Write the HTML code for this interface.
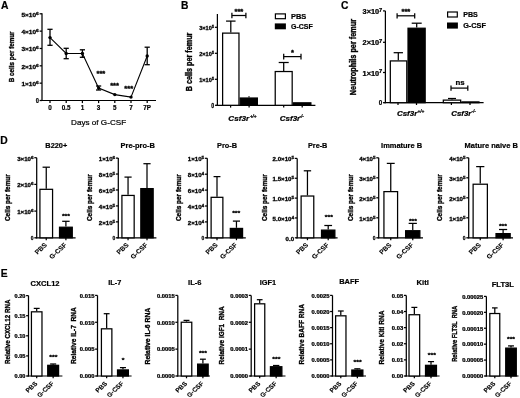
<!DOCTYPE html><html><head><meta charset="utf-8"><style>html,body{margin:0;padding:0;background:#fff;width:520px;height:398px;overflow:hidden}svg{display:block;filter:grayscale(1) blur(0.35px)}svg{font-weight:bold}text{white-space:pre;font-family:"Liberation Sans",sans-serif;fill:#000;stroke:#000;stroke-width:0.2px}line{stroke:#000}</style></head><body>
<svg width="520" height="398" viewBox="0 0 520 398">
<rect width="520" height="398" fill="#fff"/>
<text transform="translate(0.9,8.8)" font-size="10.3">A</text>
<text transform="translate(181,8.7)" font-size="10.3">B</text>
<text transform="translate(340.9,9)" font-size="10.3">C</text>
<text transform="translate(0.2,144.3)" font-size="10.3">D</text>
<text transform="translate(0.8,277.3)" font-size="10.3">E</text>
<line x1="42" y1="13.3" x2="42" y2="101" stroke-width="1.25"/>
<line x1="39.6" y1="100.5" x2="42" y2="100.5" stroke-width="1.25"/>
<text transform="translate(38.9,102.67) scale(0.9,1)" font-size="6.3" text-anchor="end" style="stroke-width:0.25px">0</text>
<line x1="39.6" y1="83.16" x2="42" y2="83.16" stroke-width="1.25"/>
<text transform="translate(38.9,86.08) scale(1.3,1)" font-size="5" text-anchor="end" style="stroke-width:0.25px">1&#215;10<tspan dy="-2" font-size="78%">6</tspan></text>
<line x1="39.6" y1="65.82" x2="42" y2="65.82" stroke-width="1.25"/>
<text transform="translate(38.9,68.74) scale(1.3,1)" font-size="5" text-anchor="end" style="stroke-width:0.25px">2&#215;10<tspan dy="-2" font-size="78%">6</tspan></text>
<line x1="39.6" y1="48.48" x2="42" y2="48.48" stroke-width="1.25"/>
<text transform="translate(38.9,51.41) scale(1.3,1)" font-size="5" text-anchor="end" style="stroke-width:0.25px">3&#215;10<tspan dy="-2" font-size="78%">6</tspan></text>
<line x1="39.6" y1="31.14" x2="42" y2="31.14" stroke-width="1.25"/>
<text transform="translate(38.9,34.07) scale(1.3,1)" font-size="5" text-anchor="end" style="stroke-width:0.25px">4&#215;10<tspan dy="-2" font-size="78%">6</tspan></text>
<line x1="39.6" y1="13.8" x2="42" y2="13.8" stroke-width="1.25"/>
<text transform="translate(38.9,16.72) scale(1.3,1)" font-size="5" text-anchor="end" style="stroke-width:0.25px">5&#215;10<tspan dy="-2" font-size="78%">6</tspan></text>
<line x1="41" y1="100.5" x2="156" y2="100.5" stroke-width="1.2"/>
<line x1="50" y1="100.5" x2="50" y2="103.1" stroke-width="1.25"/>
<text transform="translate(50,110.2) scale(0.97,1)" font-size="6.5" text-anchor="middle">0</text>
<line x1="66.2" y1="100.5" x2="66.2" y2="103.1" stroke-width="1.25"/>
<text transform="translate(66.2,110.2) scale(0.97,1)" font-size="6.5" text-anchor="middle">0.5</text>
<line x1="82.4" y1="100.5" x2="82.4" y2="103.1" stroke-width="1.25"/>
<text transform="translate(82.4,110.2) scale(0.97,1)" font-size="6.5" text-anchor="middle">1</text>
<line x1="98.6" y1="100.5" x2="98.6" y2="103.1" stroke-width="1.25"/>
<text transform="translate(98.6,110.2) scale(0.97,1)" font-size="6.5" text-anchor="middle">3</text>
<line x1="114.8" y1="100.5" x2="114.8" y2="103.1" stroke-width="1.25"/>
<text transform="translate(114.8,110.2) scale(0.97,1)" font-size="6.5" text-anchor="middle">5</text>
<line x1="131" y1="100.5" x2="131" y2="103.1" stroke-width="1.25"/>
<text transform="translate(131,110.2) scale(0.97,1)" font-size="6.5" text-anchor="middle">7</text>
<line x1="147.2" y1="100.5" x2="147.2" y2="103.1" stroke-width="1.25"/>
<text transform="translate(147.2,110.2) scale(0.97,1)" font-size="6.5" text-anchor="middle">7P</text>
<text transform="translate(71.05,125.3)" font-size="7.3" font-weight="normal" textLength="55.1" lengthAdjust="spacingAndGlyphs">Days of G-CSF</text>
<text transform="translate(13.6,82.2) scale(1.22,1) rotate(-90)" font-size="6" textLength="50.7" lengthAdjust="spacingAndGlyphs" style="stroke-width:0.28px">B cells per femur</text>
<polyline fill="none" stroke="#000" stroke-width="1.1" points="50,37.6 66.2,53.5 82.4,53.5 98.6,88.1 114.8,94.6 131,97.1 147.2,56"/>
<line x1="50" y1="29.3" x2="50" y2="45.3" stroke-width="1.3"/>
<line x1="47.4" y1="29.3" x2="52.6" y2="29.3" stroke-width="1.3"/>
<line x1="47.4" y1="45.3" x2="52.6" y2="45.3" stroke-width="1.3"/>
<circle cx="50" cy="37.6" r="1.7" fill="#000"/>
<line x1="66.2" y1="48.3" x2="66.2" y2="58.7" stroke-width="1.3"/>
<line x1="63.6" y1="48.3" x2="68.8" y2="48.3" stroke-width="1.3"/>
<line x1="63.6" y1="58.7" x2="68.8" y2="58.7" stroke-width="1.3"/>
<circle cx="66.2" cy="53.5" r="1.7" fill="#000"/>
<line x1="82.4" y1="49.8" x2="82.4" y2="57.3" stroke-width="1.3"/>
<line x1="79.8" y1="49.8" x2="85" y2="49.8" stroke-width="1.3"/>
<line x1="79.8" y1="57.3" x2="85" y2="57.3" stroke-width="1.3"/>
<circle cx="82.4" cy="53.5" r="1.7" fill="#000"/>
<line x1="98.6" y1="86" x2="98.6" y2="90" stroke-width="1.3"/>
<line x1="96" y1="86" x2="101.2" y2="86" stroke-width="1.3"/>
<line x1="96" y1="90" x2="101.2" y2="90" stroke-width="1.3"/>
<circle cx="98.6" cy="88.1" r="1.7" fill="#000"/>
<circle cx="114.8" cy="94.6" r="1.7" fill="#000"/>
<circle cx="131" cy="97.1" r="1.7" fill="#000"/>
<line x1="147.2" y1="47.2" x2="147.2" y2="64.7" stroke-width="1.3"/>
<line x1="144.6" y1="47.2" x2="149.8" y2="47.2" stroke-width="1.3"/>
<line x1="144.6" y1="64.7" x2="149.8" y2="64.7" stroke-width="1.3"/>
<circle cx="147.2" cy="56" r="1.7" fill="#000"/>
<text transform="translate(100.9,76.07) scale(1.15,1)" font-size="6.6" text-anchor="middle" style="stroke-width:0.3px">***</text>
<text transform="translate(114.6,87.97) scale(1.15,1)" font-size="6.6" text-anchor="middle" style="stroke-width:0.3px">***</text>
<text transform="translate(128.7,90.97) scale(1.15,1)" font-size="6.6" text-anchor="middle" style="stroke-width:0.3px">***</text>
<line x1="217.4" y1="14" x2="217.4" y2="105.8" stroke-width="1.25"/>
<line x1="215" y1="105.3" x2="217.4" y2="105.3" stroke-width="1.25"/>
<text transform="translate(214.3,107.51) scale(0.82,1)" font-size="6.4" text-anchor="end" style="stroke-width:0.25px">0</text>
<line x1="215" y1="79.3" x2="217.4" y2="79.3" stroke-width="1.25"/>
<text transform="translate(214.3,82.16) scale(1.17,1)" font-size="4.8" text-anchor="end" style="stroke-width:0.25px">1&#215;10<tspan dy="-2" font-size="78%">5</tspan></text>
<line x1="215" y1="53.3" x2="217.4" y2="53.3" stroke-width="1.25"/>
<text transform="translate(214.3,56.16) scale(1.17,1)" font-size="4.8" text-anchor="end" style="stroke-width:0.25px">2&#215;10<tspan dy="-2" font-size="78%">5</tspan></text>
<line x1="215" y1="27.3" x2="217.4" y2="27.3" stroke-width="1.25"/>
<text transform="translate(214.3,30.16) scale(1.17,1)" font-size="4.8" text-anchor="end" style="stroke-width:0.25px">3&#215;10<tspan dy="-2" font-size="78%">5</tspan></text>
<line x1="216.4" y1="105.3" x2="315.4" y2="105.3" stroke-width="1.2"/>
<rect x="222.62" y="33.12" width="16.35" height="72.17" fill="#fff" stroke="#000" stroke-width="1.25"/>
<rect x="240.22" y="98.03" width="17.15" height="7.27" fill="#000" stroke="#000" stroke-width="1.25"/>
<rect x="275.23" y="71.53" width="16.95" height="33.77" fill="#fff" stroke="#000" stroke-width="1.25"/>
<rect x="293.43" y="102.83" width="17.45" height="2.47" fill="#000" stroke="#000" stroke-width="1.25"/>
<line x1="230.8" y1="21.1" x2="230.8" y2="32.5" stroke-width="1.25"/>
<line x1="226.05" y1="21.1" x2="235.55" y2="21.1" stroke-width="1.25"/>
<line x1="283.7" y1="62.5" x2="283.7" y2="70.9" stroke-width="1.25"/>
<line x1="278.7" y1="62.5" x2="288.7" y2="62.5" stroke-width="1.25"/>
<line x1="249" y1="96.2" x2="249" y2="97.5" stroke-width="1.25"/>
<line x1="230.6" y1="105.3" x2="230.6" y2="107.6" stroke-width="1.25"/>
<line x1="249.1" y1="105.3" x2="249.1" y2="107.6" stroke-width="1.25"/>
<line x1="283.7" y1="105.3" x2="283.7" y2="107.6" stroke-width="1.25"/>
<line x1="302.2" y1="105.3" x2="302.2" y2="107.6" stroke-width="1.25"/>
<text transform="translate(228.3,121)" font-size="7.1" font-style="italic" textLength="20.8" lengthAdjust="spacingAndGlyphs">Csf3r</text>
<text transform="translate(249.9,117.8)" font-size="4.6" font-style="italic">+/+</text>
<text transform="translate(279.8,120.6)" font-size="7.1" font-style="italic" textLength="20.4" lengthAdjust="spacingAndGlyphs">Csf3r</text>
<text transform="translate(299.5,117.8)" font-size="4.6" font-style="italic">-/-</text>
<line x1="231.9" y1="15.5" x2="245.9" y2="15.5" stroke-width="1.25"/>
<line x1="231.9" y1="12.8" x2="231.9" y2="18.2" stroke-width="1.25"/>
<line x1="245.9" y1="12.8" x2="245.9" y2="18.2" stroke-width="1.25"/>
<text transform="translate(238.9,13.67) scale(1.15,1)" font-size="6.6" text-anchor="middle" style="stroke-width:0.3px">***</text>
<line x1="283.7" y1="56.6" x2="301" y2="56.6" stroke-width="1.25"/>
<line x1="283.7" y1="53.8" x2="283.7" y2="59.4" stroke-width="1.25"/>
<line x1="301" y1="53.8" x2="301" y2="59.4" stroke-width="1.25"/>
<text transform="translate(292.5,54.77) scale(1.15,1)" font-size="6.6" text-anchor="middle" style="stroke-width:0.3px">*</text>
<text transform="translate(191.6,91.2) scale(1.22,1) rotate(-90)" font-size="7" textLength="58.6" lengthAdjust="spacingAndGlyphs" style="stroke-width:0.28px">B cells per femur</text>
<rect x="275.4" y="13.9" width="10.0" height="4.8" fill="#fff" stroke="#000" stroke-width="1.2"/>
<rect x="274.8" y="23.4" width="11.1" height="5.9" fill="#000"/>
<text transform="translate(290.95,18.6)" font-size="6.8" textLength="15.3" lengthAdjust="spacingAndGlyphs">PBS</text>
<text transform="translate(290.95,29.2)" font-size="7" textLength="21.8" lengthAdjust="spacingAndGlyphs">G-CSF</text>
<line x1="385.4" y1="10.9" x2="385.4" y2="103.2" stroke-width="1.25"/>
<line x1="383" y1="102.7" x2="385.4" y2="102.7" stroke-width="1.25"/>
<text transform="translate(382.3,105.12) scale(0.9,1)" font-size="7" text-anchor="end" style="stroke-width:0.25px">0</text>
<line x1="383" y1="72.5" x2="385.4" y2="72.5" stroke-width="1.25"/>
<text transform="translate(382.3,75.51) scale(1.15,1)" font-size="6.4" text-anchor="end" style="stroke-width:0.25px">1&#215;10<tspan dy="-2.4" font-size="78%">7</tspan></text>
<line x1="383" y1="42.3" x2="385.4" y2="42.3" stroke-width="1.25"/>
<text transform="translate(382.3,45.31) scale(1.15,1)" font-size="6.4" text-anchor="end" style="stroke-width:0.25px">2&#215;10<tspan dy="-2.4" font-size="78%">7</tspan></text>
<line x1="383" y1="10.9" x2="385.4" y2="10.9" stroke-width="1.25"/>
<text transform="translate(382.3,13.91) scale(1.15,1)" font-size="6.4" text-anchor="end" style="stroke-width:0.25px">3&#215;10<tspan dy="-2.4" font-size="78%">7</tspan></text>
<line x1="384.4" y1="102.7" x2="483.6" y2="102.7" stroke-width="1.2"/>
<rect x="390.32" y="60.92" width="16.45" height="41.78" fill="#fff" stroke="#000" stroke-width="1.25"/>
<rect x="408.02" y="28.23" width="17.15" height="74.47" fill="#000" stroke="#000" stroke-width="1.25"/>
<rect x="443.32" y="100.12" width="17.35" height="2.58" fill="#fff" stroke="#000" stroke-width="1.25"/>
<rect x="461.93" y="101.92" width="17.05" height="0.78" fill="#000" stroke="#000" stroke-width="1.25"/>
<line x1="398.3" y1="52.7" x2="398.3" y2="60.3" stroke-width="1.25"/>
<line x1="393.65" y1="52.7" x2="402.95" y2="52.7" stroke-width="1.25"/>
<line x1="416.7" y1="23.2" x2="416.7" y2="27.6" stroke-width="1.25"/>
<line x1="411.7" y1="23.2" x2="421.7" y2="23.2" stroke-width="1.25"/>
<line x1="452" y1="98.5" x2="452" y2="99.5" stroke-width="1.25"/>
<line x1="448" y1="98.5" x2="456" y2="98.5" stroke-width="1.25"/>
<line x1="398" y1="102.7" x2="398" y2="105" stroke-width="1.25"/>
<line x1="416.5" y1="102.7" x2="416.5" y2="105" stroke-width="1.25"/>
<line x1="451.4" y1="102.7" x2="451.4" y2="105" stroke-width="1.25"/>
<line x1="470" y1="102.7" x2="470" y2="105" stroke-width="1.25"/>
<text transform="translate(396.9,116)" font-size="7.1" font-style="italic" textLength="20.4" lengthAdjust="spacingAndGlyphs">Csf3r</text>
<text transform="translate(417.6,113.4)" font-size="4.6" font-style="italic">+/+</text>
<text transform="translate(451.2,116)" font-size="7.1" font-style="italic" textLength="20.2" lengthAdjust="spacingAndGlyphs">Csf3r</text>
<text transform="translate(471.4,113.4)" font-size="4.6" font-style="italic">-/-</text>
<line x1="397.1" y1="15.8" x2="414.7" y2="15.8" stroke-width="1.25"/>
<line x1="397.1" y1="13.2" x2="397.1" y2="18.5" stroke-width="1.25"/>
<line x1="414.7" y1="13.2" x2="414.7" y2="18.5" stroke-width="1.25"/>
<text transform="translate(405.9,13.97) scale(1.15,1)" font-size="6.6" text-anchor="middle" style="stroke-width:0.3px">***</text>
<line x1="451" y1="88.1" x2="467.8" y2="88.1" stroke-width="1.25"/>
<line x1="451" y1="85.5" x2="451" y2="90.8" stroke-width="1.25"/>
<line x1="467.8" y1="85.5" x2="467.8" y2="90.8" stroke-width="1.25"/>
<text transform="translate(460,85.1) scale(1.15,1)" font-size="6.8" text-anchor="middle">ns</text>
<text transform="translate(355.8,95.2) scale(1.22,1) rotate(-90)" font-size="7" textLength="76.3" lengthAdjust="spacingAndGlyphs" style="stroke-width:0.28px">Neutrophils per femur</text>
<rect x="447.6" y="12.0" width="9.7" height="5.0" fill="#fff" stroke="#000" stroke-width="1.2"/>
<rect x="447.0" y="22.5" width="10.9" height="6.1" fill="#000"/>
<text transform="translate(463.15,17)" font-size="6.8" textLength="14.6" lengthAdjust="spacingAndGlyphs">PBS</text>
<text transform="translate(463.15,28.1)" font-size="7" textLength="22.7" lengthAdjust="spacingAndGlyphs">G-CSF</text>
<text transform="translate(45.35,148.4)" font-size="7.6" textLength="21.9" lengthAdjust="spacingAndGlyphs">B220+</text>
<line x1="36.7" y1="157.7" x2="36.7" y2="238.3" stroke-width="1.25"/>
<line x1="34.3" y1="237.8" x2="36.7" y2="237.8" stroke-width="1.25"/>
<text transform="translate(33.6,239.8) scale(0.86,1)" font-size="5.8" text-anchor="end" style="stroke-width:0.25px">0</text>
<line x1="34.3" y1="211.1" x2="36.7" y2="211.1" stroke-width="1.25"/>
<text transform="translate(33.6,213.99) scale(1.25,1)" font-size="4.9" text-anchor="end" style="stroke-width:0.25px">1&#215;10<tspan dy="-1.8" font-size="78%">6</tspan></text>
<line x1="34.3" y1="184.4" x2="36.7" y2="184.4" stroke-width="1.25"/>
<text transform="translate(33.6,187.29) scale(1.25,1)" font-size="4.9" text-anchor="end" style="stroke-width:0.25px">2&#215;10<tspan dy="-1.8" font-size="78%">6</tspan></text>
<line x1="34.3" y1="157.7" x2="36.7" y2="157.7" stroke-width="1.25"/>
<text transform="translate(33.6,160.59) scale(1.25,1)" font-size="4.9" text-anchor="end" style="stroke-width:0.25px">3&#215;10<tspan dy="-1.8" font-size="78%">6</tspan></text>
<line x1="35.7" y1="237.8" x2="75.6" y2="237.8" stroke-width="1.2"/>
<rect x="39.92" y="189.32" width="12.65" height="48.48" fill="#fff" stroke="#000" stroke-width="1.25"/>
<rect x="59.52" y="227.22" width="12.75" height="10.58" fill="#000" stroke="#000" stroke-width="1.25"/>
<line x1="46.25" y1="167.2" x2="46.25" y2="188.7" stroke-width="1.25"/>
<line x1="42.57" y1="167.2" x2="49.93" y2="167.2" stroke-width="1.25"/>
<line x1="65.9" y1="221.3" x2="65.9" y2="226.6" stroke-width="1.25"/>
<line x1="62.19" y1="221.3" x2="69.61" y2="221.3" stroke-width="1.25"/>
<line x1="46.25" y1="237.8" x2="46.25" y2="240.2" stroke-width="1.25"/>
<line x1="65.9" y1="237.8" x2="65.9" y2="240.2" stroke-width="1.25"/>
<text transform="translate(47.45,245.4) scale(1.07,1) rotate(-45)" font-size="6.4" text-anchor="end" style="stroke-width:0.12px">PBS</text>
<text transform="translate(67.1,245.4) scale(1.07,1) rotate(-45)" font-size="6.4" text-anchor="end" style="stroke-width:0.12px">G-CSF</text>
<text transform="translate(65.9,218.26) scale(1.15,1)" font-size="6" text-anchor="middle" style="stroke-width:0.3px">***</text>
<text transform="translate(10.4,221.1) scale(1.22,1) rotate(-90)" font-size="6.2" textLength="46.9" lengthAdjust="spacingAndGlyphs" style="stroke-width:0.28px">Cells per femur</text>
<text transform="translate(120.55,148.4)" font-size="7.6" textLength="34.3" lengthAdjust="spacingAndGlyphs">Pre-pro-B</text>
<line x1="118.3" y1="158.1" x2="118.3" y2="238.3" stroke-width="1.25"/>
<line x1="115.9" y1="237.8" x2="118.3" y2="237.8" stroke-width="1.25"/>
<text transform="translate(115.2,239.8) scale(0.86,1)" font-size="5.8" text-anchor="end" style="stroke-width:0.25px">0</text>
<line x1="115.9" y1="221.86" x2="118.3" y2="221.86" stroke-width="1.25"/>
<text transform="translate(115.2,224.75) scale(1.25,1)" font-size="4.9" text-anchor="end" style="stroke-width:0.25px">2&#215;10<tspan dy="-1.8" font-size="78%">5</tspan></text>
<line x1="115.9" y1="205.92" x2="118.3" y2="205.92" stroke-width="1.25"/>
<text transform="translate(115.2,208.81) scale(1.25,1)" font-size="4.9" text-anchor="end" style="stroke-width:0.25px">4&#215;10<tspan dy="-1.8" font-size="78%">5</tspan></text>
<line x1="115.9" y1="189.98" x2="118.3" y2="189.98" stroke-width="1.25"/>
<text transform="translate(115.2,192.87) scale(1.25,1)" font-size="4.9" text-anchor="end" style="stroke-width:0.25px">6&#215;10<tspan dy="-1.8" font-size="78%">5</tspan></text>
<line x1="115.9" y1="174.04" x2="118.3" y2="174.04" stroke-width="1.25"/>
<text transform="translate(115.2,176.93) scale(1.25,1)" font-size="4.9" text-anchor="end" style="stroke-width:0.25px">8&#215;10<tspan dy="-1.8" font-size="78%">5</tspan></text>
<line x1="115.9" y1="158.1" x2="118.3" y2="158.1" stroke-width="1.25"/>
<text transform="translate(115.2,160.99) scale(1.25,1)" font-size="4.9" text-anchor="end" style="stroke-width:0.25px">1&#215;10<tspan dy="-1.8" font-size="78%">6</tspan></text>
<line x1="117.3" y1="237.8" x2="156.4" y2="237.8" stroke-width="1.2"/>
<rect x="121.92" y="195.43" width="12.25" height="42.38" fill="#fff" stroke="#000" stroke-width="1.25"/>
<rect x="140.82" y="188.62" width="12.35" height="49.18" fill="#000" stroke="#000" stroke-width="1.25"/>
<line x1="128.05" y1="177.1" x2="128.05" y2="194.8" stroke-width="1.25"/>
<line x1="124.47" y1="177.1" x2="131.63" y2="177.1" stroke-width="1.25"/>
<line x1="147" y1="163.7" x2="147" y2="188" stroke-width="1.25"/>
<line x1="143.4" y1="163.7" x2="150.6" y2="163.7" stroke-width="1.25"/>
<line x1="128.05" y1="237.8" x2="128.05" y2="240.2" stroke-width="1.25"/>
<line x1="147" y1="237.8" x2="147" y2="240.2" stroke-width="1.25"/>
<text transform="translate(129.25,245.4) scale(1.07,1) rotate(-45)" font-size="6.4" text-anchor="end" style="stroke-width:0.12px">PBS</text>
<text transform="translate(148.2,245.4) scale(1.07,1) rotate(-45)" font-size="6.4" text-anchor="end" style="stroke-width:0.12px">G-CSF</text>
<text transform="translate(92,221.1) scale(1.22,1) rotate(-90)" font-size="6.2" textLength="46.9" lengthAdjust="spacingAndGlyphs" style="stroke-width:0.28px">Cells per femur</text>
<text transform="translate(217.05,148.4)" font-size="7.6" textLength="20" lengthAdjust="spacingAndGlyphs">Pro-B</text>
<line x1="207.3" y1="158.3" x2="207.3" y2="238.3" stroke-width="1.25"/>
<line x1="204.9" y1="237.8" x2="207.3" y2="237.8" stroke-width="1.25"/>
<text transform="translate(204.2,239.8) scale(0.86,1)" font-size="5.8" text-anchor="end" style="stroke-width:0.25px">0</text>
<line x1="204.9" y1="221.9" x2="207.3" y2="221.9" stroke-width="1.25"/>
<text transform="translate(204.2,224.79) scale(1.25,1)" font-size="4.9" text-anchor="end" style="stroke-width:0.25px">2&#215;10<tspan dy="-1.8" font-size="78%">4</tspan></text>
<line x1="204.9" y1="206" x2="207.3" y2="206" stroke-width="1.25"/>
<text transform="translate(204.2,208.89) scale(1.25,1)" font-size="4.9" text-anchor="end" style="stroke-width:0.25px">4&#215;10<tspan dy="-1.8" font-size="78%">4</tspan></text>
<line x1="204.9" y1="190.1" x2="207.3" y2="190.1" stroke-width="1.25"/>
<text transform="translate(204.2,192.99) scale(1.25,1)" font-size="4.9" text-anchor="end" style="stroke-width:0.25px">6&#215;10<tspan dy="-1.8" font-size="78%">4</tspan></text>
<line x1="204.9" y1="174.2" x2="207.3" y2="174.2" stroke-width="1.25"/>
<text transform="translate(204.2,177.09) scale(1.25,1)" font-size="4.9" text-anchor="end" style="stroke-width:0.25px">8&#215;10<tspan dy="-1.8" font-size="78%">4</tspan></text>
<line x1="204.9" y1="158.3" x2="207.3" y2="158.3" stroke-width="1.25"/>
<text transform="translate(204.2,161.19) scale(1.25,1)" font-size="4.9" text-anchor="end" style="stroke-width:0.25px">1&#215;10<tspan dy="-1.8" font-size="78%">5</tspan></text>
<line x1="206.3" y1="237.8" x2="245.8" y2="237.8" stroke-width="1.2"/>
<rect x="211.12" y="197.32" width="11.75" height="40.48" fill="#fff" stroke="#000" stroke-width="1.25"/>
<rect x="230.32" y="228.43" width="12.25" height="9.38" fill="#000" stroke="#000" stroke-width="1.25"/>
<line x1="217" y1="176.6" x2="217" y2="196.7" stroke-width="1.25"/>
<line x1="213.56" y1="176.6" x2="220.44" y2="176.6" stroke-width="1.25"/>
<line x1="236.45" y1="221.1" x2="236.45" y2="227.8" stroke-width="1.25"/>
<line x1="232.87" y1="221.1" x2="240.03" y2="221.1" stroke-width="1.25"/>
<line x1="217" y1="237.8" x2="217" y2="240.2" stroke-width="1.25"/>
<line x1="236.45" y1="237.8" x2="236.45" y2="240.2" stroke-width="1.25"/>
<text transform="translate(218.2,245.4) scale(1.07,1) rotate(-45)" font-size="6.4" text-anchor="end" style="stroke-width:0.12px">PBS</text>
<text transform="translate(237.65,245.4) scale(1.07,1) rotate(-45)" font-size="6.4" text-anchor="end" style="stroke-width:0.12px">G-CSF</text>
<text transform="translate(236.2,214.56) scale(1.15,1)" font-size="6" text-anchor="middle" style="stroke-width:0.3px">***</text>
<text transform="translate(180.6,221.1) scale(1.22,1) rotate(-90)" font-size="6.2" textLength="46.9" lengthAdjust="spacingAndGlyphs" style="stroke-width:0.28px">Cells per femur</text>
<text transform="translate(307.95,148.4)" font-size="7.6" textLength="19.4" lengthAdjust="spacingAndGlyphs">Pre-B</text>
<line x1="297.2" y1="158.4" x2="297.2" y2="238.3" stroke-width="1.25"/>
<line x1="294.8" y1="237.8" x2="297.2" y2="237.8" stroke-width="1.25"/>
<text transform="translate(294.1,240.69) scale(1.25,1)" font-size="4.9" text-anchor="end" style="stroke-width:0.25px">0.0</text>
<line x1="294.8" y1="217.95" x2="297.2" y2="217.95" stroke-width="1.25"/>
<text transform="translate(294.1,220.84) scale(1.25,1)" font-size="4.9" text-anchor="end" style="stroke-width:0.25px">5.0&#215;10<tspan dy="-1.8" font-size="78%">4</tspan></text>
<line x1="294.8" y1="198.1" x2="297.2" y2="198.1" stroke-width="1.25"/>
<text transform="translate(294.1,200.99) scale(1.25,1)" font-size="4.9" text-anchor="end" style="stroke-width:0.25px">1.0&#215;10<tspan dy="-1.8" font-size="78%">5</tspan></text>
<line x1="294.8" y1="178.25" x2="297.2" y2="178.25" stroke-width="1.25"/>
<text transform="translate(294.1,181.14) scale(1.25,1)" font-size="4.9" text-anchor="end" style="stroke-width:0.25px">1.5&#215;10<tspan dy="-1.8" font-size="78%">5</tspan></text>
<line x1="294.8" y1="158.4" x2="297.2" y2="158.4" stroke-width="1.25"/>
<text transform="translate(294.1,161.29) scale(1.25,1)" font-size="4.9" text-anchor="end" style="stroke-width:0.25px">2.0&#215;10<tspan dy="-1.8" font-size="78%">5</tspan></text>
<line x1="296.2" y1="237.8" x2="337.6" y2="237.8" stroke-width="1.2"/>
<rect x="301.12" y="196.03" width="12.65" height="41.78" fill="#fff" stroke="#000" stroke-width="1.25"/>
<rect x="321.52" y="230.12" width="13.35" height="7.68" fill="#000" stroke="#000" stroke-width="1.25"/>
<line x1="307.45" y1="170.8" x2="307.45" y2="195.4" stroke-width="1.25"/>
<line x1="303.77" y1="170.8" x2="311.13" y2="170.8" stroke-width="1.25"/>
<line x1="328.2" y1="225.5" x2="328.2" y2="229.5" stroke-width="1.25"/>
<line x1="324.33" y1="225.5" x2="332.07" y2="225.5" stroke-width="1.25"/>
<line x1="307.45" y1="237.8" x2="307.45" y2="240.2" stroke-width="1.25"/>
<line x1="328.2" y1="237.8" x2="328.2" y2="240.2" stroke-width="1.25"/>
<text transform="translate(308.65,245.4) scale(1.07,1) rotate(-45)" font-size="6.4" text-anchor="end" style="stroke-width:0.12px">PBS</text>
<text transform="translate(329.4,245.4) scale(1.07,1) rotate(-45)" font-size="6.4" text-anchor="end" style="stroke-width:0.12px">G-CSF</text>
<text transform="translate(328.8,219.46) scale(1.15,1)" font-size="6" text-anchor="middle" style="stroke-width:0.3px">***</text>
<text transform="translate(267,221.1) scale(1.22,1) rotate(-90)" font-size="6.2" textLength="46.9" lengthAdjust="spacingAndGlyphs" style="stroke-width:0.28px">Cells per femur</text>
<text transform="translate(381.05,148.4)" font-size="7.6" textLength="41.1" lengthAdjust="spacingAndGlyphs">Immature B</text>
<line x1="378.7" y1="157.8" x2="378.7" y2="238.3" stroke-width="1.25"/>
<line x1="376.3" y1="237.8" x2="378.7" y2="237.8" stroke-width="1.25"/>
<text transform="translate(375.6,239.8) scale(0.86,1)" font-size="5.8" text-anchor="end" style="stroke-width:0.25px">0</text>
<line x1="376.3" y1="217.8" x2="378.7" y2="217.8" stroke-width="1.25"/>
<text transform="translate(375.6,220.69) scale(1.25,1)" font-size="4.9" text-anchor="end" style="stroke-width:0.25px">1&#215;10<tspan dy="-1.8" font-size="78%">5</tspan></text>
<line x1="376.3" y1="197.8" x2="378.7" y2="197.8" stroke-width="1.25"/>
<text transform="translate(375.6,200.69) scale(1.25,1)" font-size="4.9" text-anchor="end" style="stroke-width:0.25px">2&#215;10<tspan dy="-1.8" font-size="78%">5</tspan></text>
<line x1="376.3" y1="177.8" x2="378.7" y2="177.8" stroke-width="1.25"/>
<text transform="translate(375.6,180.69) scale(1.25,1)" font-size="4.9" text-anchor="end" style="stroke-width:0.25px">3&#215;10<tspan dy="-1.8" font-size="78%">5</tspan></text>
<line x1="376.3" y1="157.8" x2="378.7" y2="157.8" stroke-width="1.25"/>
<text transform="translate(375.6,160.69) scale(1.25,1)" font-size="4.9" text-anchor="end" style="stroke-width:0.25px">4&#215;10<tspan dy="-1.8" font-size="78%">5</tspan></text>
<line x1="377.7" y1="237.8" x2="423" y2="237.8" stroke-width="1.2"/>
<rect x="383.93" y="191.62" width="13.65" height="46.18" fill="#fff" stroke="#000" stroke-width="1.25"/>
<rect x="405.62" y="230.72" width="14.25" height="7.08" fill="#000" stroke="#000" stroke-width="1.25"/>
<line x1="390.75" y1="163.4" x2="390.75" y2="191" stroke-width="1.25"/>
<line x1="386.8" y1="163.4" x2="394.7" y2="163.4" stroke-width="1.25"/>
<line x1="412.75" y1="223.4" x2="412.75" y2="230.1" stroke-width="1.25"/>
<line x1="408.64" y1="223.4" x2="416.86" y2="223.4" stroke-width="1.25"/>
<line x1="390.75" y1="237.8" x2="390.75" y2="240.2" stroke-width="1.25"/>
<line x1="412.75" y1="237.8" x2="412.75" y2="240.2" stroke-width="1.25"/>
<text transform="translate(391.95,245.4) scale(1.07,1) rotate(-45)" font-size="6.4" text-anchor="end" style="stroke-width:0.12px">PBS</text>
<text transform="translate(413.95,245.4) scale(1.07,1) rotate(-45)" font-size="6.4" text-anchor="end" style="stroke-width:0.12px">G-CSF</text>
<text transform="translate(412.9,222.96) scale(1.15,1)" font-size="6" text-anchor="middle" style="stroke-width:0.3px">***</text>
<text transform="translate(353.3,221.1) scale(1.22,1) rotate(-90)" font-size="6.2" textLength="46.9" lengthAdjust="spacingAndGlyphs" style="stroke-width:0.28px">Cells per femur</text>
<text transform="translate(464.55,148.4)" font-size="7.6" textLength="53.3" lengthAdjust="spacingAndGlyphs">Mature naive B</text>
<line x1="468.7" y1="157.8" x2="468.7" y2="238.3" stroke-width="1.25"/>
<line x1="466.3" y1="237.8" x2="468.7" y2="237.8" stroke-width="1.25"/>
<text transform="translate(465.6,239.8) scale(0.86,1)" font-size="5.8" text-anchor="end" style="stroke-width:0.25px">0</text>
<line x1="466.3" y1="217.8" x2="468.7" y2="217.8" stroke-width="1.25"/>
<text transform="translate(465.6,220.69) scale(1.25,1)" font-size="4.9" text-anchor="end" style="stroke-width:0.25px">1&#215;10<tspan dy="-1.8" font-size="78%">5</tspan></text>
<line x1="466.3" y1="197.8" x2="468.7" y2="197.8" stroke-width="1.25"/>
<text transform="translate(465.6,200.69) scale(1.25,1)" font-size="4.9" text-anchor="end" style="stroke-width:0.25px">2&#215;10<tspan dy="-1.8" font-size="78%">5</tspan></text>
<line x1="466.3" y1="177.8" x2="468.7" y2="177.8" stroke-width="1.25"/>
<text transform="translate(465.6,180.69) scale(1.25,1)" font-size="4.9" text-anchor="end" style="stroke-width:0.25px">3&#215;10<tspan dy="-1.8" font-size="78%">5</tspan></text>
<line x1="466.3" y1="157.8" x2="468.7" y2="157.8" stroke-width="1.25"/>
<text transform="translate(465.6,160.69) scale(1.25,1)" font-size="4.9" text-anchor="end" style="stroke-width:0.25px">4&#215;10<tspan dy="-1.8" font-size="78%">5</tspan></text>
<line x1="467.7" y1="237.8" x2="513" y2="237.8" stroke-width="1.2"/>
<rect x="473.12" y="184.22" width="14.25" height="53.58" fill="#fff" stroke="#000" stroke-width="1.25"/>
<rect x="496.02" y="233.62" width="14.15" height="4.18" fill="#000" stroke="#000" stroke-width="1.25"/>
<line x1="480.25" y1="166.6" x2="480.25" y2="183.6" stroke-width="1.25"/>
<line x1="476.14" y1="166.6" x2="484.36" y2="166.6" stroke-width="1.25"/>
<line x1="503.1" y1="229.5" x2="503.1" y2="233" stroke-width="1.25"/>
<line x1="499.02" y1="229.5" x2="507.18" y2="229.5" stroke-width="1.25"/>
<line x1="480.25" y1="237.8" x2="480.25" y2="240.2" stroke-width="1.25"/>
<line x1="503.1" y1="237.8" x2="503.1" y2="240.2" stroke-width="1.25"/>
<text transform="translate(481.45,245.4) scale(1.07,1) rotate(-45)" font-size="6.4" text-anchor="end" style="stroke-width:0.12px">PBS</text>
<text transform="translate(504.3,245.4) scale(1.07,1) rotate(-45)" font-size="6.4" text-anchor="end" style="stroke-width:0.12px">G-CSF</text>
<text transform="translate(502.9,228.26) scale(1.15,1)" font-size="6" text-anchor="middle" style="stroke-width:0.3px">***</text>
<text transform="translate(442,221.1) scale(1.22,1) rotate(-90)" font-size="6.2" textLength="46.9" lengthAdjust="spacingAndGlyphs" style="stroke-width:0.28px">Cells per femur</text>
<text transform="translate(30.55,285.5)" font-size="7.4" textLength="29" lengthAdjust="spacingAndGlyphs">CXCL12</text>
<line x1="28.5" y1="295.6" x2="28.5" y2="376.5" stroke-width="1.25"/>
<line x1="26.1" y1="376" x2="28.5" y2="376" stroke-width="1.25"/>
<text transform="translate(25.4,378.23) scale(1.12,1)" font-size="5" text-anchor="end" style="stroke-width:0.25px">0.00</text>
<line x1="26.1" y1="355.9" x2="28.5" y2="355.9" stroke-width="1.25"/>
<text transform="translate(25.4,358.12) scale(1.12,1)" font-size="5" text-anchor="end" style="stroke-width:0.25px">0.05</text>
<line x1="26.1" y1="335.8" x2="28.5" y2="335.8" stroke-width="1.25"/>
<text transform="translate(25.4,338.03) scale(1.12,1)" font-size="5" text-anchor="end" style="stroke-width:0.25px">0.10</text>
<line x1="26.1" y1="315.7" x2="28.5" y2="315.7" stroke-width="1.25"/>
<text transform="translate(25.4,317.93) scale(1.12,1)" font-size="5" text-anchor="end" style="stroke-width:0.25px">0.15</text>
<line x1="26.1" y1="295.6" x2="28.5" y2="295.6" stroke-width="1.25"/>
<text transform="translate(25.4,297.83) scale(1.12,1)" font-size="5" text-anchor="end" style="stroke-width:0.25px">0.20</text>
<line x1="27.5" y1="376" x2="62.4" y2="376" stroke-width="1.2"/>
<rect x="31.43" y="311.82" width="10.55" height="64.18" fill="#fff" stroke="#000" stroke-width="1.25"/>
<rect x="47.73" y="365.32" width="10.85" height="10.68" fill="#000" stroke="#000" stroke-width="1.25"/>
<line x1="36.7" y1="308.4" x2="36.7" y2="311.2" stroke-width="1.25"/>
<line x1="33.75" y1="308.4" x2="39.65" y2="308.4" stroke-width="1.25"/>
<line x1="53.15" y1="364" x2="53.15" y2="364.7" stroke-width="1.25"/>
<line x1="50.13" y1="364" x2="56.18" y2="364" stroke-width="1.25"/>
<line x1="36.7" y1="376" x2="36.7" y2="378.3" stroke-width="1.25"/>
<line x1="53.15" y1="376" x2="53.15" y2="378.3" stroke-width="1.25"/>
<text transform="translate(37.8,384.1) scale(1.07,1) rotate(-45)" font-size="6.2" text-anchor="end" style="stroke-width:0.12px">PBS</text>
<text transform="translate(54.25,384.1) scale(1.07,1) rotate(-45)" font-size="6.2" text-anchor="end" style="stroke-width:0.12px">G-CSF</text>
<text transform="translate(53.3,359.26) scale(1.15,1)" font-size="6" text-anchor="middle" style="stroke-width:0.3px">***</text>
<text transform="translate(10.3,364) scale(1.22,1) rotate(-90)" font-size="6" textLength="64.4" lengthAdjust="spacingAndGlyphs" style="stroke-width:0.28px">Relative CXCL12 RNA</text>
<text transform="translate(108.15,285)" font-size="7.4" textLength="13.1" lengthAdjust="spacingAndGlyphs">IL-7</text>
<line x1="97.5" y1="295.4" x2="97.5" y2="376.5" stroke-width="1.25"/>
<line x1="95.1" y1="376" x2="97.5" y2="376" stroke-width="1.25"/>
<text transform="translate(94.4,378.29) scale(1.12,1)" font-size="5.2" text-anchor="end" style="stroke-width:0.25px">0.000</text>
<line x1="95.1" y1="349.13" x2="97.5" y2="349.13" stroke-width="1.25"/>
<text transform="translate(94.4,351.43) scale(1.12,1)" font-size="5.2" text-anchor="end" style="stroke-width:0.25px">0.005</text>
<line x1="95.1" y1="322.27" x2="97.5" y2="322.27" stroke-width="1.25"/>
<text transform="translate(94.4,324.56) scale(1.12,1)" font-size="5.2" text-anchor="end" style="stroke-width:0.25px">0.010</text>
<line x1="95.1" y1="295.4" x2="97.5" y2="295.4" stroke-width="1.25"/>
<text transform="translate(94.4,297.69) scale(1.12,1)" font-size="5.2" text-anchor="end" style="stroke-width:0.25px">0.015</text>
<line x1="96.5" y1="376" x2="131.6" y2="376" stroke-width="1.2"/>
<rect x="101.42" y="328.82" width="10.45" height="47.18" fill="#fff" stroke="#000" stroke-width="1.25"/>
<rect x="117.53" y="369.93" width="10.85" height="6.07" fill="#000" stroke="#000" stroke-width="1.25"/>
<line x1="106.65" y1="313.7" x2="106.65" y2="328.2" stroke-width="1.25"/>
<line x1="103.73" y1="313.7" x2="109.58" y2="313.7" stroke-width="1.25"/>
<line x1="122.95" y1="367.6" x2="122.95" y2="369.3" stroke-width="1.25"/>
<line x1="119.93" y1="367.6" x2="125.97" y2="367.6" stroke-width="1.25"/>
<line x1="106.65" y1="376" x2="106.65" y2="378.3" stroke-width="1.25"/>
<line x1="122.95" y1="376" x2="122.95" y2="378.3" stroke-width="1.25"/>
<text transform="translate(107.75,384.1) scale(1.07,1) rotate(-45)" font-size="6.2" text-anchor="end" style="stroke-width:0.12px">PBS</text>
<text transform="translate(124.05,384.1) scale(1.07,1) rotate(-45)" font-size="6.2" text-anchor="end" style="stroke-width:0.12px">G-CSF</text>
<text transform="translate(123.2,362.26) scale(1.15,1)" font-size="6" text-anchor="middle" style="stroke-width:0.3px">*</text>
<text transform="translate(76.2,364) scale(1.22,1) rotate(-90)" font-size="6" textLength="56.9" lengthAdjust="spacingAndGlyphs" style="stroke-width:0.28px">Relative IL-7  RNA</text>
<text transform="translate(188.05,285.2)" font-size="7.4" textLength="13.5" lengthAdjust="spacingAndGlyphs">IL-6</text>
<line x1="177.8" y1="295.4" x2="177.8" y2="376.5" stroke-width="1.25"/>
<line x1="175.4" y1="376" x2="177.8" y2="376" stroke-width="1.25"/>
<text transform="translate(174.7,378.29) scale(1.12,1)" font-size="5.2" text-anchor="end" style="stroke-width:0.25px">0.0000</text>
<line x1="175.4" y1="349.13" x2="177.8" y2="349.13" stroke-width="1.25"/>
<text transform="translate(174.7,351.43) scale(1.12,1)" font-size="5.2" text-anchor="end" style="stroke-width:0.25px">0.0005</text>
<line x1="175.4" y1="322.27" x2="177.8" y2="322.27" stroke-width="1.25"/>
<text transform="translate(174.7,324.56) scale(1.12,1)" font-size="5.2" text-anchor="end" style="stroke-width:0.25px">0.0010</text>
<line x1="175.4" y1="295.4" x2="177.8" y2="295.4" stroke-width="1.25"/>
<text transform="translate(174.7,297.69) scale(1.12,1)" font-size="5.2" text-anchor="end" style="stroke-width:0.25px">0.0015</text>
<line x1="176.8" y1="376" x2="210" y2="376" stroke-width="1.2"/>
<rect x="181.22" y="322.23" width="10.55" height="53.77" fill="#fff" stroke="#000" stroke-width="1.25"/>
<rect x="197.62" y="364.12" width="10.55" height="11.88" fill="#000" stroke="#000" stroke-width="1.25"/>
<line x1="186.5" y1="320.4" x2="186.5" y2="321.6" stroke-width="1.25"/>
<line x1="183.55" y1="320.4" x2="189.45" y2="320.4" stroke-width="1.25"/>
<line x1="202.9" y1="359.2" x2="202.9" y2="363.5" stroke-width="1.25"/>
<line x1="199.95" y1="359.2" x2="205.85" y2="359.2" stroke-width="1.25"/>
<line x1="186.5" y1="376" x2="186.5" y2="378.3" stroke-width="1.25"/>
<line x1="202.9" y1="376" x2="202.9" y2="378.3" stroke-width="1.25"/>
<text transform="translate(187.6,384.1) scale(1.07,1) rotate(-45)" font-size="6.2" text-anchor="end" style="stroke-width:0.12px">PBS</text>
<text transform="translate(204,384.1) scale(1.07,1) rotate(-45)" font-size="6.2" text-anchor="end" style="stroke-width:0.12px">G-CSF</text>
<text transform="translate(202.9,355.16) scale(1.15,1)" font-size="6" text-anchor="middle" style="stroke-width:0.3px">***</text>
<text transform="translate(150,364.5) scale(1.22,1) rotate(-90)" font-size="6" textLength="56.8" lengthAdjust="spacingAndGlyphs" style="stroke-width:0.28px">Relative IL-6 RNA</text>
<text transform="translate(259.75,285.2)" font-size="7.4" textLength="16.4" lengthAdjust="spacingAndGlyphs">IGF1</text>
<line x1="251.2" y1="295.4" x2="251.2" y2="376.5" stroke-width="1.25"/>
<line x1="248.8" y1="376" x2="251.2" y2="376" stroke-width="1.25"/>
<text transform="translate(248.1,378.29) scale(1.12,1)" font-size="5.2" text-anchor="end" style="stroke-width:0.25px">0.0000</text>
<line x1="248.8" y1="349.13" x2="251.2" y2="349.13" stroke-width="1.25"/>
<text transform="translate(248.1,351.43) scale(1.12,1)" font-size="5.2" text-anchor="end" style="stroke-width:0.25px">0.0001</text>
<line x1="248.8" y1="322.27" x2="251.2" y2="322.27" stroke-width="1.25"/>
<text transform="translate(248.1,324.56) scale(1.12,1)" font-size="5.2" text-anchor="end" style="stroke-width:0.25px">0.0002</text>
<line x1="248.8" y1="295.4" x2="251.2" y2="295.4" stroke-width="1.25"/>
<text transform="translate(248.1,297.69) scale(1.12,1)" font-size="5.2" text-anchor="end" style="stroke-width:0.25px">0.0003</text>
<line x1="250.2" y1="376" x2="285.5" y2="376" stroke-width="1.2"/>
<rect x="254.62" y="303.82" width="10.15" height="72.18" fill="#fff" stroke="#000" stroke-width="1.25"/>
<rect x="270.43" y="366.73" width="11.45" height="9.27" fill="#000" stroke="#000" stroke-width="1.25"/>
<line x1="259.7" y1="299.7" x2="259.7" y2="303.2" stroke-width="1.25"/>
<line x1="256.85" y1="299.7" x2="262.55" y2="299.7" stroke-width="1.25"/>
<line x1="276.15" y1="365.5" x2="276.15" y2="366.1" stroke-width="1.25"/>
<line x1="272.97" y1="365.5" x2="279.32" y2="365.5" stroke-width="1.25"/>
<line x1="259.7" y1="376" x2="259.7" y2="378.3" stroke-width="1.25"/>
<line x1="276.15" y1="376" x2="276.15" y2="378.3" stroke-width="1.25"/>
<text transform="translate(260.8,384.1) scale(1.07,1) rotate(-45)" font-size="6.2" text-anchor="end" style="stroke-width:0.12px">PBS</text>
<text transform="translate(277.25,384.1) scale(1.07,1) rotate(-45)" font-size="6.2" text-anchor="end" style="stroke-width:0.12px">G-CSF</text>
<text transform="translate(276.3,360.66) scale(1.15,1)" font-size="6" text-anchor="middle" style="stroke-width:0.3px">***</text>
<text transform="translate(224,364.5) scale(1.22,1) rotate(-90)" font-size="6" textLength="58.1" lengthAdjust="spacingAndGlyphs" style="stroke-width:0.28px">Relative IGF1  RNA</text>
<text transform="translate(339.15,284.4)" font-size="7.4" textLength="19.9" lengthAdjust="spacingAndGlyphs">BAFF</text>
<line x1="332.5" y1="295.4" x2="332.5" y2="376.5" stroke-width="1.25"/>
<line x1="330.1" y1="376" x2="332.5" y2="376" stroke-width="1.25"/>
<text transform="translate(329.4,378.29) scale(1.12,1)" font-size="5.2" text-anchor="end" style="stroke-width:0.25px">0.0000</text>
<line x1="330.1" y1="359.88" x2="332.5" y2="359.88" stroke-width="1.25"/>
<text transform="translate(329.4,362.17) scale(1.12,1)" font-size="5.2" text-anchor="end" style="stroke-width:0.25px">0.0005</text>
<line x1="330.1" y1="343.76" x2="332.5" y2="343.76" stroke-width="1.25"/>
<text transform="translate(329.4,346.05) scale(1.12,1)" font-size="5.2" text-anchor="end" style="stroke-width:0.25px">0.0010</text>
<line x1="330.1" y1="327.64" x2="332.5" y2="327.64" stroke-width="1.25"/>
<text transform="translate(329.4,329.93) scale(1.12,1)" font-size="5.2" text-anchor="end" style="stroke-width:0.25px">0.0015</text>
<line x1="330.1" y1="311.52" x2="332.5" y2="311.52" stroke-width="1.25"/>
<text transform="translate(329.4,313.81) scale(1.12,1)" font-size="5.2" text-anchor="end" style="stroke-width:0.25px">0.0020</text>
<line x1="330.1" y1="295.4" x2="332.5" y2="295.4" stroke-width="1.25"/>
<text transform="translate(329.4,297.69) scale(1.12,1)" font-size="5.2" text-anchor="end" style="stroke-width:0.25px">0.0025</text>
<line x1="331.5" y1="376" x2="366" y2="376" stroke-width="1.2"/>
<rect x="335.62" y="315.82" width="10.35" height="60.18" fill="#fff" stroke="#000" stroke-width="1.25"/>
<rect x="351.82" y="370.02" width="11.05" height="5.98" fill="#000" stroke="#000" stroke-width="1.25"/>
<line x1="340.8" y1="311" x2="340.8" y2="315.2" stroke-width="1.25"/>
<line x1="337.9" y1="311" x2="343.7" y2="311" stroke-width="1.25"/>
<line x1="357.35" y1="368.8" x2="357.35" y2="369.4" stroke-width="1.25"/>
<line x1="354.28" y1="368.8" x2="360.43" y2="368.8" stroke-width="1.25"/>
<line x1="340.8" y1="376" x2="340.8" y2="378.3" stroke-width="1.25"/>
<line x1="357.35" y1="376" x2="357.35" y2="378.3" stroke-width="1.25"/>
<text transform="translate(341.9,384.1) scale(1.07,1) rotate(-45)" font-size="6.2" text-anchor="end" style="stroke-width:0.12px">PBS</text>
<text transform="translate(358.45,384.1) scale(1.07,1) rotate(-45)" font-size="6.2" text-anchor="end" style="stroke-width:0.12px">G-CSF</text>
<text transform="translate(357.6,363.56) scale(1.15,1)" font-size="6" text-anchor="middle" style="stroke-width:0.3px">***</text>
<text transform="translate(304.2,364.5) scale(1.22,1) rotate(-90)" font-size="6" textLength="60.4" lengthAdjust="spacingAndGlyphs" style="stroke-width:0.28px">Relative BAFF RNA</text>
<text transform="translate(416.55,285)" font-size="7.4" textLength="12.4" lengthAdjust="spacingAndGlyphs">Kitl</text>
<line x1="406.3" y1="295.4" x2="406.3" y2="376.5" stroke-width="1.25"/>
<line x1="403.9" y1="376" x2="406.3" y2="376" stroke-width="1.25"/>
<text transform="translate(403.2,378.29) scale(1.12,1)" font-size="5.2" text-anchor="end" style="stroke-width:0.25px">0.00</text>
<line x1="403.9" y1="359.88" x2="406.3" y2="359.88" stroke-width="1.25"/>
<text transform="translate(403.2,362.17) scale(1.12,1)" font-size="5.2" text-anchor="end" style="stroke-width:0.25px">0.01</text>
<line x1="403.9" y1="343.76" x2="406.3" y2="343.76" stroke-width="1.25"/>
<text transform="translate(403.2,346.05) scale(1.12,1)" font-size="5.2" text-anchor="end" style="stroke-width:0.25px">0.02</text>
<line x1="403.9" y1="327.64" x2="406.3" y2="327.64" stroke-width="1.25"/>
<text transform="translate(403.2,329.93) scale(1.12,1)" font-size="5.2" text-anchor="end" style="stroke-width:0.25px">0.03</text>
<line x1="403.9" y1="311.52" x2="406.3" y2="311.52" stroke-width="1.25"/>
<text transform="translate(403.2,313.81) scale(1.12,1)" font-size="5.2" text-anchor="end" style="stroke-width:0.25px">0.04</text>
<line x1="403.9" y1="295.4" x2="406.3" y2="295.4" stroke-width="1.25"/>
<text transform="translate(403.2,297.69) scale(1.12,1)" font-size="5.2" text-anchor="end" style="stroke-width:0.25px">0.05</text>
<line x1="405.3" y1="376" x2="439.6" y2="376" stroke-width="1.2"/>
<rect x="409.02" y="314.73" width="10.65" height="61.27" fill="#fff" stroke="#000" stroke-width="1.25"/>
<rect x="425.52" y="365.32" width="10.95" height="10.68" fill="#000" stroke="#000" stroke-width="1.25"/>
<line x1="414.35" y1="307.4" x2="414.35" y2="314.1" stroke-width="1.25"/>
<line x1="411.38" y1="307.4" x2="417.33" y2="307.4" stroke-width="1.25"/>
<line x1="431" y1="361.6" x2="431" y2="364.7" stroke-width="1.25"/>
<line x1="427.95" y1="361.6" x2="434.05" y2="361.6" stroke-width="1.25"/>
<line x1="414.35" y1="376" x2="414.35" y2="378.3" stroke-width="1.25"/>
<line x1="431" y1="376" x2="431" y2="378.3" stroke-width="1.25"/>
<text transform="translate(415.45,384.1) scale(1.07,1) rotate(-45)" font-size="6.2" text-anchor="end" style="stroke-width:0.12px">PBS</text>
<text transform="translate(432.1,384.1) scale(1.07,1) rotate(-45)" font-size="6.2" text-anchor="end" style="stroke-width:0.12px">G-CSF</text>
<text transform="translate(431.8,356.66) scale(1.15,1)" font-size="6" text-anchor="middle" style="stroke-width:0.3px">***</text>
<text transform="translate(384.2,364.5) scale(1.22,1) rotate(-90)" font-size="6" textLength="54" lengthAdjust="spacingAndGlyphs" style="stroke-width:0.28px">Relative Kitl RNA</text>
<text transform="translate(491.65,287.3)" font-size="7.4" textLength="22.3" lengthAdjust="spacingAndGlyphs">FLT3L</text>
<line x1="486.4" y1="296.4" x2="486.4" y2="376.5" stroke-width="1.25"/>
<line x1="484" y1="376" x2="486.4" y2="376" stroke-width="1.25"/>
<text transform="translate(483.3,378.29) scale(1.12,1)" font-size="5.2" text-anchor="end" style="stroke-width:0.25px">0.00000</text>
<line x1="484" y1="360.08" x2="486.4" y2="360.08" stroke-width="1.25"/>
<text transform="translate(483.3,362.37) scale(1.12,1)" font-size="5.2" text-anchor="end" style="stroke-width:0.25px">0.00005</text>
<line x1="484" y1="344.16" x2="486.4" y2="344.16" stroke-width="1.25"/>
<text transform="translate(483.3,346.45) scale(1.12,1)" font-size="5.2" text-anchor="end" style="stroke-width:0.25px">0.00010</text>
<line x1="484" y1="328.24" x2="486.4" y2="328.24" stroke-width="1.25"/>
<text transform="translate(483.3,330.53) scale(1.12,1)" font-size="5.2" text-anchor="end" style="stroke-width:0.25px">0.00015</text>
<line x1="484" y1="312.32" x2="486.4" y2="312.32" stroke-width="1.25"/>
<text transform="translate(483.3,314.61) scale(1.12,1)" font-size="5.2" text-anchor="end" style="stroke-width:0.25px">0.00020</text>
<line x1="484" y1="296.4" x2="486.4" y2="296.4" stroke-width="1.25"/>
<text transform="translate(483.3,298.69) scale(1.12,1)" font-size="5.2" text-anchor="end" style="stroke-width:0.25px">0.00025</text>
<line x1="485.4" y1="376" x2="518.5" y2="376" stroke-width="1.2"/>
<rect x="489.82" y="313.52" width="9.95" height="62.48" fill="#fff" stroke="#000" stroke-width="1.25"/>
<rect x="505.73" y="348.12" width="10.55" height="27.88" fill="#000" stroke="#000" stroke-width="1.25"/>
<line x1="494.8" y1="307.9" x2="494.8" y2="312.9" stroke-width="1.25"/>
<line x1="492" y1="307.9" x2="497.6" y2="307.9" stroke-width="1.25"/>
<line x1="511" y1="345.9" x2="511" y2="347.5" stroke-width="1.25"/>
<line x1="508.05" y1="345.9" x2="513.95" y2="345.9" stroke-width="1.25"/>
<line x1="494.8" y1="376" x2="494.8" y2="378.3" stroke-width="1.25"/>
<line x1="511" y1="376" x2="511" y2="378.3" stroke-width="1.25"/>
<text transform="translate(495.9,384.1) scale(1.07,1) rotate(-45)" font-size="6.2" text-anchor="end" style="stroke-width:0.12px">PBS</text>
<text transform="translate(512.1,384.1) scale(1.07,1) rotate(-45)" font-size="6.2" text-anchor="end" style="stroke-width:0.12px">G-CSF</text>
<text transform="translate(511,340.66) scale(1.15,1)" font-size="6" text-anchor="middle" style="stroke-width:0.3px">***</text>
<text transform="translate(456.6,361.8) scale(1.22,1) rotate(-90)" font-size="6" textLength="55.9" lengthAdjust="spacingAndGlyphs" style="stroke-width:0.28px">Relative FLT3L  RNA</text>
</svg></body></html>
